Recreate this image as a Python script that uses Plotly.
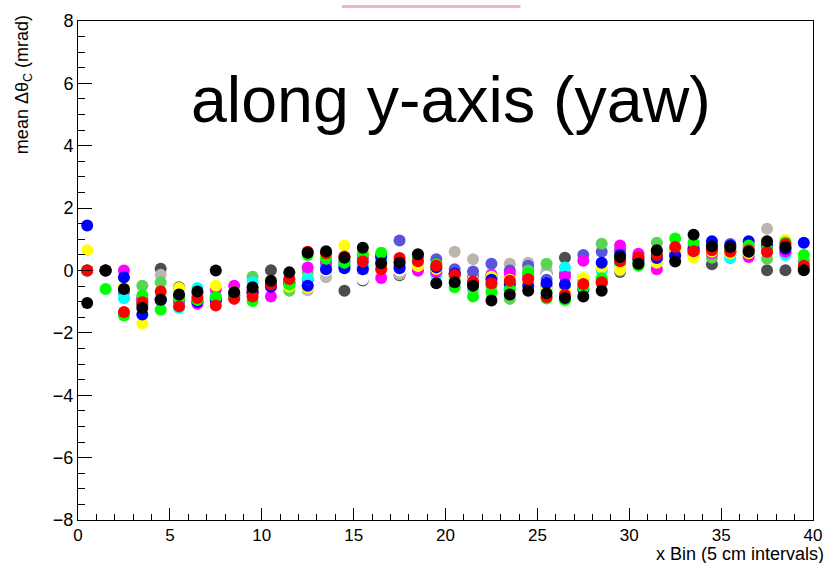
import plotly.graph_objects as go

x_bins = [i + 0.5 for i in range(40)]

black = [-1.04, 0, -0.59, -1.2, -0.94, -0.77, -0.67, 0, -0.70, -0.54,
         -0.33, -0.06, 0.57, 0.62, 0.41, 0.73, 0.23, 0.25, 0.52, -0.41,
         -0.38, -0.49, -0.96, -0.77, -0.65, -0.73, -0.88, -0.83, -0.65, 0.43,
         0.22, 0.65, 0.29, 1.15, 0.78, 0.75, 0.6, 0.94, 0.75, 0.01]
red = [0, 0, -1.33, -1.02, -0.67, -1.15, -0.88, -1.12, -0.91, -0.83,
       -0.45, -0.27, 0.6, 0.55, 0.45, 0.29, 0.04, 0.4, 0.3, 0.15,
       -0.14, -0.35, -0.41, -0.33, -0.28, -0.85, -0.78, -0.43, -0.38, 0.3,
       0.43, 0.5, 0.75, 0.62, 0.65, 0.6, 0.65, 0.6, 0.85, 0.15]
green = [0, -0.59, -1.44, -0.80, -1.26, -0.9, -0.95, -0.86, -0.85, -0.98,
         -0.4, -0.45, 0.5, 0.38, 0.25, 0.52, 0.57, 0.3, 0.45, 0.2,
         -0.54, -0.83, -0.70, -0.6, -0.1, -0.9, -0.95, -0.55, -0.25, 0.35,
         0.15, 0.6, 1.03, 0.9, 0.75, 0.7, 0.8, 0.7, 0.9, 0.5]
blue = [1.44, 0, -0.22, -1.41, -0.95, -0.85, -1.0, -0.95, -0.75, -0.7,
        -0.52, -0.4, -0.49, 0.04, 0.07, 0.04, 0.45, 0.07, 0.5, 0.1,
        -0.1, -0.4, -0.3, -0.45, -0.5, -0.41, -0.45, -0.6, 0.25, 0.5,
        0.35, 0.4, 0.47, 0.7, 0.94, 0.8, 0.94, 0.8, 0.7, 0.89]
yellow = [0.65, 0, -0.52, -1.70, -0.8, -0.56, -0.75, -0.49, -0.7, -0.6,
          -0.35, -0.52, -0.55, 0.45, 0.80, 0.6, 0.15, 0.2, 0.14, 0.05,
          -0.2, -0.5, -0.2, -0.3, -0.35, -0.55, -0.6, -0.24, 0.1, 0.04,
          0.3, 0.25, 0.65, 0.41, 0.6, 0.55, 0.55, 0.7, 0.98, 0.1]
magenta = [0, 0, 0.0, -0.9, -0.9, -0.95, -1.07, -0.6, -0.49, -0.6,
           -0.83, -0.3, 0.1, 0.25, 0.3, 0.4, -0.24, 0.15, -0.01, -0.05,
           -0.1, -0.45, -0.15, -0.1, -0.2, -0.5, -0.2, 0.31, -0.3, 0.80,
           0.54, 0.04, 0.6, 0.6, 0.55, 0.6, 0.43, 0.6, 0.6, 0.05]
cyan = [0, 0, -0.89, -1.0, -0.85, -1.2, -0.56, -0.8, -0.8, -0.38,
        -0.45, -0.35, -0.24, 0.15, 0.2, 0.2, 0.3, 0.1, 0.2, -0.16,
        -0.2, -0.55, -0.25, -0.4, -0.3, -0.6, 0.1, -0.3, -0.01, 0.2,
        0.3, 0.3, 0.5, 0.6, 0.6, 0.39, 0.55, 0.6, 0.5, 0.1]
lightgreen = [0, 0, -0.6, -0.49, -0.38, -0.9, -0.8, -0.9, -0.8, -0.2,
              -0.4, -0.65, -0.05, 0.3, 0.3, 0.5, 0.5, 0.25, 0.35, 0.1,
              -0.3, -0.6, -0.5, -0.91, 0.0, 0.22, -0.5, -0.5, 0.86, 0.4,
              0.3, 0.89, 0.7, 0.8, 0.41, 0.65, 0.6, 0.38, 0.7, 0.3]
slate = [0, 0, -0.7, -0.9, -0.9, -1.0, -1.0, -0.95, -0.8, -0.7,
         -0.5, -0.4, -0.3, 0.1, 0.15, 0.1, 0.4, 0.96, 0.4, 0.36,
         0.04, -0.03, 0.22, 0.0, 0.15, -0.3, -0.1, 0.5, 0.6, 0.65,
         0.4, 0.45, 0.5, 0.7, 0.8, 0.85, 0.7, 0.75, 0.55, 0.3]
white = [0, 0, -0.6, 0, -0.8, -0.8, -0.8, -0.8, -0.8, -0.7,
         -0.5, -0.4, -0.4, 0.0, 0.1, -0.28, 0.1, 0.0, 0.1, 0.0,
         0.0, -0.3, -0.3, -0.2, -0.1, -0.2, -0.3, -0.2, 0.2, 0.1,
         0.2, 0.3, 0.4, 0.5, 0.5, 0.5, 0.5, 0.5, 0.5, 0.1]
lightgray = [0, 0, -0.6, -1.0, -0.14, -0.8, -0.8, -0.9, -0.85, -0.75,
             -0.45, -0.5, -0.63, -0.22, 0.1, 0.0, 0.1, -0.12, 0.05, -0.05,
             0.6, 0.36, -0.1, 0.22, 0.25, 0.0, -0.2, -0.2, 0.0, 0.0,
             0.2, 0.3, 0.4, 0.5, 0.5, 0.5, 0.5, 1.34, 0.6, 0.1]
darkgray = [0, 0, -0.6, -1.1, 0.06, -0.54, -0.75, -0.9, -0.88, -0.7,
            0.01, -0.4, -0.5, 0.0, -0.65, -0.32, 0.1, -0.15, 0.05, -0.1,
            -0.1, -0.22, -0.2, -0.2, -0.1, -0.1, 0.41, -0.3, -0.4, -0.05,
            0.2, 0.3, 0.4, 0.5, 0.2, 0.5, 0.5, 0.01, 0.01, 0.05]

# drawn from ROOT colour 12 down to 1
series = [
    ("darkgray", darkgray, "#4d4d4d"),
    ("lightgray", lightgray, "#bdb6b0"),
    ("white", white, "#ffffff"),
    ("slate", slate, "#5954d9"),
    ("lightgreen", lightgreen, "#59d454"),
    ("cyan", cyan, "#00ffff"),
    ("magenta", magenta, "#ff00ff"),
    ("yellow", yellow, "#ffff00"),
    ("blue", blue, "#0000ff"),
    ("green", green, "#00ff00"),
    ("red", red, "#ff0000"),
    ("black", black, "#000000"),
]

fig = go.Figure()
for name, vals, col in series:
    fig.add_trace(go.Scatter(
        x=x_bins, y=vals, mode="markers", name=name,
        marker=dict(color=col, size=12, line=dict(width=0)),
        showlegend=False, hoverinfo="skip"))

FONT = "Liberation Sans, Arial, sans-serif"
axis_font = dict(family=FONT, size=17, color="black")

fig.update_xaxes(
    range=[0, 40], tickvals=[0, 5, 10, 15, 20, 25, 30, 35, 40],
    ticks="inside", ticklen=12, tickwidth=1, tickcolor="black",
    minor=dict(dtick=1, ticks="inside", ticklen=6, tickcolor="black", showgrid=False),
    showline=True, linecolor="black", linewidth=1, mirror=True,
    showgrid=False, zeroline=False, tickfont=axis_font)
fig.update_yaxes(
    range=[-8, 8], tickvals=[-8, -6, -4, -2, 0, 2, 4, 6, 8],
    ticktext=["\u22128", "\u22126", "\u22124", "\u22122", "0", "2", "4", "6", "8"],
    ticks="inside", ticklen=14, tickwidth=1, tickcolor="black",
    minor=dict(dtick=0.5, ticks="inside", ticklen=7, tickcolor="black", showgrid=False),
    showline=True, linecolor="black", linewidth=1, mirror=True,
    showgrid=False, zeroline=False, tickfont=dict(family=FONT, size=18, color="black"))

fig.update_layout(
    width=833, height=565,
    margin=dict(l=78, r=11, t=16, b=45),
    paper_bgcolor="white", plot_bgcolor="white",
    annotations=[
        dict(text="along y-axis (yaw)", xref="paper", yref="paper",
             x=0.508, y=0.841, xanchor="center", yanchor="middle", showarrow=False,
             font=dict(family=FONT, size=64.5, color="black")),
        dict(text="x Bin (5 cm intervals)", xref="paper", yref="paper",
             x=1.016, y=-0.0888, xanchor="right", yanchor="bottom", showarrow=False,
             height=19, valign="middle",
             borderpad=0, font=dict(family=FONT, size=18, color="black")),
        dict(text="mean \u0394\u03b8<sub>C</sub> (mrad)", xref="paper", yref="paper",
             x=-0.074, y=1.016, xanchor="center", yanchor="top", textangle=-90, showarrow=False,
             font=dict(family=FONT, size=18, color="black")),
    ],
    shapes=[
        dict(type="rect", xref="paper", yref="paper",
             x0=0.359, x1=0.602, y0=1.026, y1=1.032,
             fillcolor="#f2b8c2", line=dict(width=0)),
    ],
)

fig.write_html("out.html")
